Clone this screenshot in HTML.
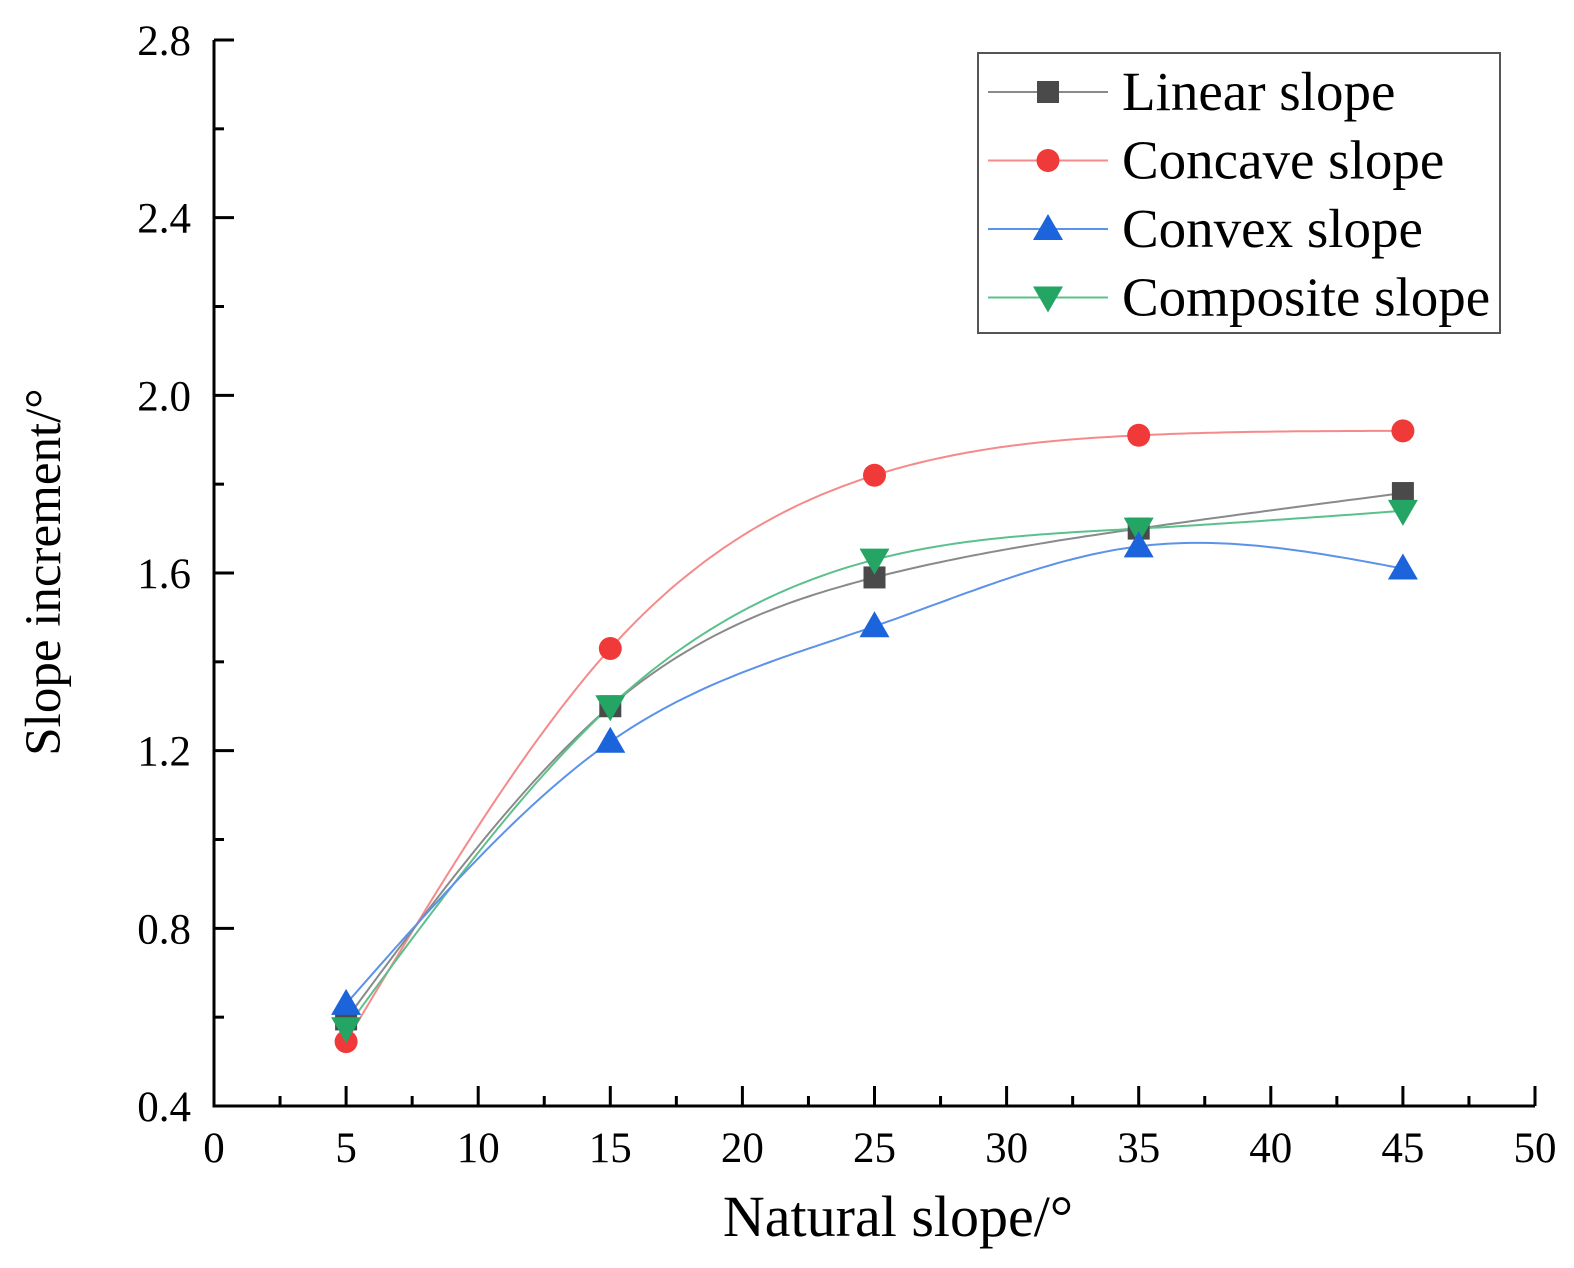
<!DOCTYPE html>
<html><head><meta charset="utf-8"><style>
html,body{margin:0;padding:0;background:#fff;}
svg{display:block;font-family:"Liberation Serif",serif;}
</style></head><body>
<svg id="chart" width="1574" height="1268" viewBox="0 0 1574 1268" xmlns="http://www.w3.org/2000/svg">
<g id="axes"></g>
<g id="series"></g>
<g id="legend"></g>
<text x="898" y="1236" font-size="58" text-anchor="middle">Natural slope/°</text>
<text transform="translate(60,572) rotate(-90)" font-size="51" text-anchor="middle">Slope increment/°</text>
</svg>
<script>
const categories = [5, 15, 25, 35, 45];
const linearValues = [0.595, 1.30, 1.59, 1.70, 1.78];
const concaveValues = [0.545, 1.43, 1.82, 1.91, 1.92];
const convexValues = [0.63, 1.22, 1.48, 1.66, 1.61];
const compositeValues = [0.575, 1.30, 1.63, 1.70, 1.74];
const xTickLabels = ["0","5","10","15","20","25","30","35","40","45","50"];
const yTickLabels = ["0.4","0.8","1.2","1.6","2.0","2.4","2.8"];

const NS = "http://www.w3.org/2000/svg";
const X0=214, X1=1535, Y0=1106, Y1=40;
const xScale = v => X0 + (v-0)/(50-0)*(X1-X0);
const yScale = v => Y0 - (v-0.4)/(2.8-0.4)*(Y0-Y1);
function mk(tag, attrs, parent){const e=document.createElementNS(NS,tag);for(const k in attrs)e.setAttribute(k,attrs[k]);parent.appendChild(e);return e;}

const axes=document.getElementById('axes');
let el=mk('line',{x1:X0-1.5,y1:Y0,x2:X1,y2:Y0,stroke:'#000','stroke-width':3},axes);


el=mk('line',{x1:X0,y1:Y0+1.5,x2:X0,y2:Y1,stroke:'#000','stroke-width':3},axes);


xTickLabels.forEach((lab,i)=>{
  const v=parseFloat(lab), x=xScale(v);
  let t=mk('line',{x1:x,y1:Y0,x2:x,y2:Y0-20,stroke:'#000','stroke-width':3},axes);
  
  
  if(i<xTickLabels.length-1){const xm=xScale(v+2.5);
    let m=mk('line',{x1:xm,y1:Y0,x2:xm,y2:Y0-10,stroke:'#000','stroke-width':3},axes);
    
    }
  let tx=mk('text',{x:x,y:1162,'font-size':43,'text-anchor':'middle'},axes);tx.textContent=lab;
  
  
});
yTickLabels.forEach((lab,i)=>{
  const v=parseFloat(lab), y=yScale(v);
  let t=mk('line',{x1:X0,y1:y,x2:X0+20,y2:y,stroke:'#000','stroke-width':3},axes);
  
  
  if(i<yTickLabels.length-1){const ym=yScale(v+0.2);
    let m=mk('line',{x1:X0,y1:ym,x2:X0+10,y2:ym,stroke:'#000','stroke-width':3},axes);
    
    }
  let tx=mk('text',{x:191,y:y+15,'font-size':43,'text-anchor':'end'},axes);tx.textContent=lab;
  
  
});

function spline(xs,ys){
  const n=xs.length,h=[],a=[],l=[1],mu=[0],z=[0],c=new Array(n).fill(0),b=[],d=[];
  for(let i=0;i<n-1;i++)h.push(xs[i+1]-xs[i]);
  for(let i=1;i<n-1;i++)a[i]=3/h[i]*(ys[i+1]-ys[i])-3/h[i-1]*(ys[i]-ys[i-1]);
  for(let i=1;i<n-1;i++){l[i]=2*(xs[i+1]-xs[i-1])-h[i-1]*mu[i-1];mu[i]=h[i]/l[i];z[i]=(a[i]-h[i-1]*z[i-1])/l[i];}
  for(let j=n-2;j>=0;j--){c[j]=(j>0?z[j]:0)-mu[j]*c[j+1];if(j==0)c[0]=0;b[j]=(ys[j+1]-ys[j])/h[j]-h[j]*(c[j+1]+2*c[j])/3;d[j]=(c[j+1]-c[j])/(3*h[j]);}
  return x=>{let i=Math.min(n-2,Math.max(0,xs.findIndex((v,k)=>k<n-1&&x<=xs[k+1])));if(i<0)i=n-2;const dx=x-xs[i];return ys[i]+b[i]*dx+c[i]*dx*dx+d[i]*dx*dx*dx;};
}

const seriesDefs=[
 {name:'concave',vals:concaveValues,color:'#f03a3a',line:'#f58a8a',marker:'circle',label:'Concave slope'},
 {name:'linear',vals:linearValues,color:'#4a4a4a',line:'#8a8a8a',marker:'square',label:'Linear slope'},
 {name:'composite',vals:compositeValues,color:'#24a564',line:'#5cc08c',marker:'tridown',label:'Composite slope'},
 {name:'convex',vals:convexValues,color:'#1c64dc',line:'#5b92ea',marker:'triup',label:'Convex slope'}
];
function marker(g,type,x,y,color){
  let m;
  if(type==='circle')m=mk('circle',{cx:x,cy:y,r:11.5,fill:color},g);
  else if(type==='square')m=mk('rect',{x:x-11,y:y-11,width:22,height:22,fill:color},g);
  else if(type==='triup')m=mk('polygon',{points:`${x},${y-15} ${x-15},${y+11} ${x+15},${y+11}`,fill:color},g);
  else m=mk('polygon',{points:`${x},${y+15} ${x-15},${y-11} ${x+15},${y-11}`,fill:color},g);
  return m;
}
const sg=document.getElementById('series');
seriesDefs.forEach(s=>{
  const f=spline(categories,s.vals);let d='';
  for(let x=categories[0];x<=categories[categories.length-1]+1e-9;x+=0.25){d+=(d?'L':'M')+xScale(x).toFixed(1)+','+yScale(f(x)).toFixed(1);}
  const g=mk('g',{},sg);
  
  
  const p=mk('path',{d:d,fill:'none',stroke:s.line,'stroke-width':2},g);
  
  
});
seriesDefs.forEach(s=>{
  const g=mk('g',{},sg);
  
  
  categories.forEach((c,i)=>{const m=marker(g,s.marker,xScale(c),yScale(s.vals[i]),s.color);
    
    });
});

const lg=document.getElementById('legend');
el=mk('rect',{x:978,y:53,width:522,height:280,fill:'#fff',stroke:'#555','stroke-width':2},lg);


const order=['linear','concave','convex','composite'];
order.forEach((nm,i)=>{
  const s=seriesDefs.find(q=>q.name===nm);const y=92+i*68.5;
  const g=mk('g',{},lg);
  
  
  mk('line',{x1:988,y1:y,x2:1108,y2:y,stroke:s.line,'stroke-width':2},g);
  marker(g,s.marker,1048,y,s.color);
  const t=mk('text',{x:1122,y:y+18,'font-size':55},g);t.textContent=s.label;
});
</script>
</body></html>
